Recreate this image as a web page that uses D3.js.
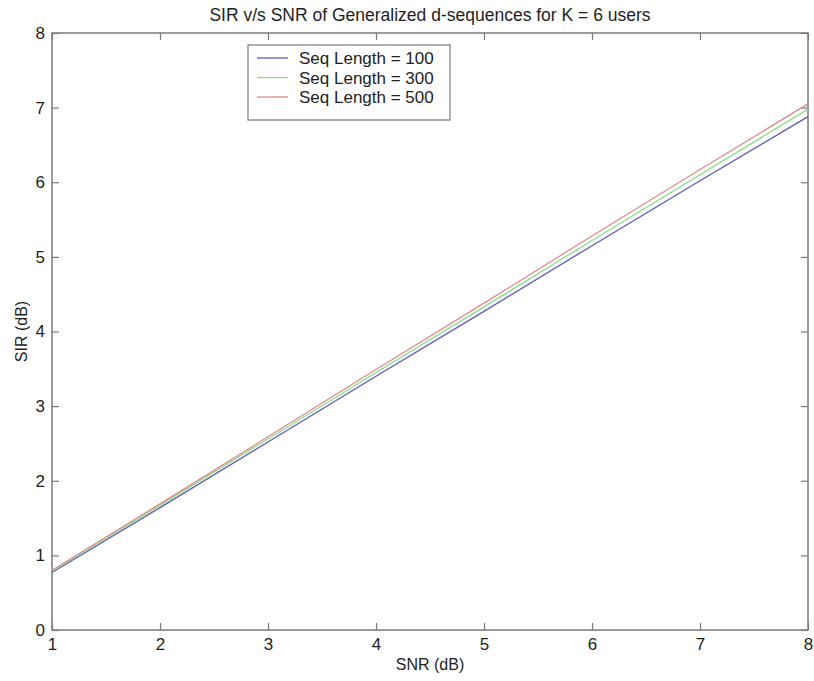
<!DOCTYPE html>
<html>
<head>
<meta charset="utf-8">
<script src="https://cdn.jsdelivr.net/npm/d3@7"></script>
<style>
  body { margin: 0; background: #fff; }
  svg { display: block; font-family: "Liberation Sans", Arial, sans-serif; }
</style>
</head>
<body>
<svg id="chart" width="814" height="681"></svg>
<script>
// SNR values (dB) on the x axis
const snr = [1, 2, 3, 4, 5, 6, 7, 8];
// SIR (dB) for each sequence length
const sir100 = [0.77, 1.64, 2.52, 3.40, 4.27, 5.15, 6.02, 6.88];
const sir300 = [0.79, 1.67, 2.56, 3.45, 4.33, 5.22, 6.10, 6.98];
const sir500 = [0.80, 1.69, 2.59, 3.49, 4.38, 5.28, 6.17, 7.05];
const seriesNames = ["Seq Length = 100", "Seq Length = 300", "Seq Length = 500"];
const seriesColors = ["#5a5ab8", "#86de86", "#e28a8a"];
const xTicks = [1, 2, 3, 4, 5, 6, 7, 8];
const yTicks = [0, 1, 2, 3, 4, 5, 6, 7, 8];

const series = [sir100, sir300, sir500];

const svg = d3.select("#chart");
const plotLeft = 52, plotRight = 808, plotTop = 33, plotBottom = 630;
const axisColor = "#7a7a7a";
const textColor = "#1e1e1e";

const x = d3.scaleLinear().domain([1, 8]).range([plotLeft, plotRight]);
const y = d3.scaleLinear().domain([0, 8]).range([plotBottom, plotTop]);

// plot box
svg.append("rect")
  .attr("x", plotLeft).attr("y", plotTop)
  .attr("width", plotRight - plotLeft).attr("height", plotBottom - plotTop)
  .attr("fill", "none").attr("stroke", axisColor).attr("stroke-width", 1.5);

function styleAxis(g, showText) {
  g.select(".domain").remove();
  g.selectAll(".tick line").attr("stroke", axisColor).attr("stroke-width", 1.2);
  g.selectAll(".tick text")
    .attr("fill", textColor).attr("font-size", 17)
    .style("display", showText ? null : "none");
}

svg.append("g").attr("transform", `translate(0,${plotBottom})`)
  .call(d3.axisBottom(x).tickValues(xTicks).tickFormat(d3.format("d")).tickSize(-7).tickPadding(8))
  .call(g => styleAxis(g, true));
svg.append("g").attr("transform", `translate(0,${plotTop})`)
  .call(d3.axisTop(x).tickValues(xTicks).tickSize(-7))
  .call(g => styleAxis(g, false));
svg.append("g").attr("transform", `translate(${plotLeft},0)`)
  .call(d3.axisLeft(y).tickValues(yTicks).tickFormat(d3.format("d")).tickSize(-7).tickPadding(7))
  .call(g => styleAxis(g, true));
svg.append("g").attr("transform", `translate(${plotRight},0)`)
  .call(d3.axisRight(y).tickValues(yTicks).tickSize(-7))
  .call(g => styleAxis(g, false));

// series lines
const line = d3.line().x((d, i) => x(snr[i])).y(d => y(d));
series.forEach((vals, k) => {
  svg.append("path")
    .datum(vals)
    .attr("d", line)
    .attr("fill", "none")
    .attr("stroke", seriesColors[k])
    .attr("stroke-width", 1.3);
});

// title and axis labels
svg.append("text")
  .attr("x", (plotLeft + plotRight) / 2).attr("y", 21)
  .attr("text-anchor", "middle").attr("font-size", 17.5).attr("fill", textColor)
  .text("SIR v/s SNR of Generalized d-sequences for K = 6 users");
svg.append("text")
  .attr("x", (plotLeft + plotRight) / 2).attr("y", 670)
  .attr("text-anchor", "middle").attr("font-size", 16).attr("fill", textColor)
  .text("SNR (dB)");
svg.append("text")
  .attr("transform", `translate(27,${(plotTop + plotBottom) / 2}) rotate(-90)`)
  .attr("text-anchor", "middle").attr("font-size", 16).attr("fill", textColor)
  .text("SIR (dB)");

// legend
const lg = svg.append("g");
lg.append("rect")
  .attr("x", 248).attr("y", 45).attr("width", 202).attr("height", 75)
  .attr("fill", "#fff").attr("stroke", axisColor).attr("stroke-width", 1.2);
seriesNames.forEach((name, k) => {
  const cy = 58 + k * 19.5;
  lg.append("line")
    .attr("x1", 257).attr("x2", 288).attr("y1", cy).attr("y2", cy)
    .attr("stroke", seriesColors[k]).attr("stroke-width", 1.3);
  lg.append("text")
    .attr("x", 299).attr("y", cy + 6)
    .attr("font-size", 17).attr("fill", textColor)
    .text(name);
});
</script>
</body>
</html>
